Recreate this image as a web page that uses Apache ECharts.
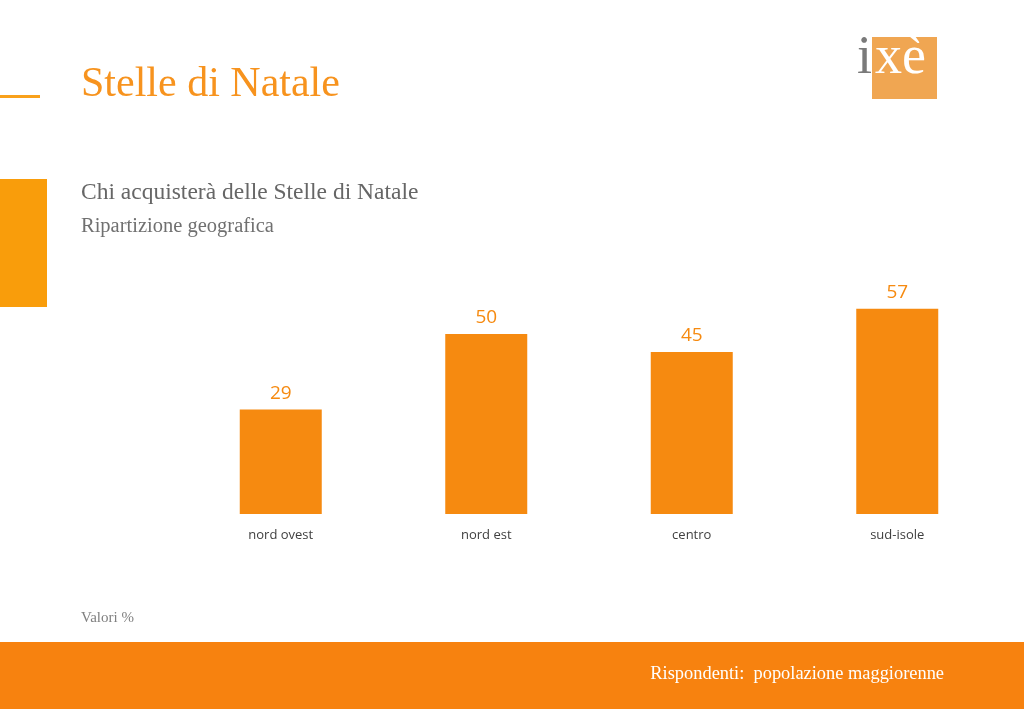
<!DOCTYPE html>
<html>
<head>
<meta charset="utf-8">
<script src="https://cdn.jsdelivr.net/npm/echarts@6/dist/echarts.min.js"></script>
<style>
html,body{margin:0;padding:0;background:#fff;}
#chart{width:1024px;height:709px;}
</style>
</head>
<body>
<div id="chart"></div>
<script>
const categories = ['nord ovest', 'nord est', 'centro', 'sud-isole'];
const values = [29, 50, 45, 57];
const titleText = 'Stelle di Natale';
const subtitleText = 'Chi acquisterà delle Stelle di Natale';
const subsubText = 'Ripartizione geografica';
const noteText = 'Valori %';
const footerText = 'Rispondenti:  popolazione maggiorenne';

const chart = echarts.init(document.getElementById('chart'));
const serif = '"Liberation Serif", "DejaVu Serif", serif';
chart.setOption({
  animation: false,
  backgroundColor: '#ffffff',
  grid: { left: 178, right: 24, top: 154, bottom: 195, containLabel: false },
  xAxis: {
    type: 'category',
    data: categories,
    axisLine: { show: false },
    axisTick: { show: false },
    axisLabel: { color: '#404040', fontSize: 13, fontFamily: '"Open Sans", sans-serif', margin: 15 }
  },
  yAxis: {
    type: 'value', min: 0, max: 100,
    show: false, splitLine: { show: false }
  },
  series: [{
    type: 'bar',
    data: values,
    barWidth: 82,
    itemStyle: { color: '#F68A10' },
    label: {
      show: true, position: 'top', distance: 7,
      color: '#F68A10', fontSize: 19, fontFamily: '"Open Sans", sans-serif'
    }
  }],
  graphic: [
    { type: 'rect', shape: { x: 0, y: 95, width: 40, height: 3 }, style: { fill: '#F9A11B' } },
    { type: 'text', x: 81, y: 85, style: { text: titleText, fill: '#F7931E', font: '42px ' + serif, textVerticalAlign: 'middle' } },
    { type: 'rect', shape: { x: 0, y: 179, width: 47, height: 128 }, style: { fill: '#F99D0B' } },
    { type: 'text', x: 81, y: 193, style: { text: subtitleText, fill: '#666666', font: '23.5px ' + serif, textVerticalAlign: 'middle' } },
    { type: 'text', x: 81, y: 227, style: { text: subsubText, fill: '#707070', font: '20.5px ' + serif, textVerticalAlign: 'middle' } },
    { type: 'text', x: 81, y: 618, style: { text: noteText, fill: '#808080', font: '15px ' + serif, textVerticalAlign: 'middle' } },
    { type: 'rect', shape: { x: 0, y: 642, width: 1024, height: 67 }, style: { fill: '#F7820F' } },
    { type: 'text', x: 944, y: 674, style: { text: footerText, fill: '#ffffff', font: '18.4px ' + serif, textAlign: 'right', textVerticalAlign: 'middle' } },
    // logo
    { type: 'rect', shape: { x: 872, y: 37, width: 65, height: 62 }, style: { fill: '#F0A652' } },
    { type: 'text', x: 857, y: 86, style: { text: 'i', fill: '#7a7a7a', font: '54px ' + serif, textVerticalAlign: 'bottom' } },
    { type: 'text', x: 875, y: 86, style: { text: 'xè', fill: '#ffffff', font: '54px ' + serif, textVerticalAlign: 'bottom' } }
  ]
});
</script>
</body>
</html>
